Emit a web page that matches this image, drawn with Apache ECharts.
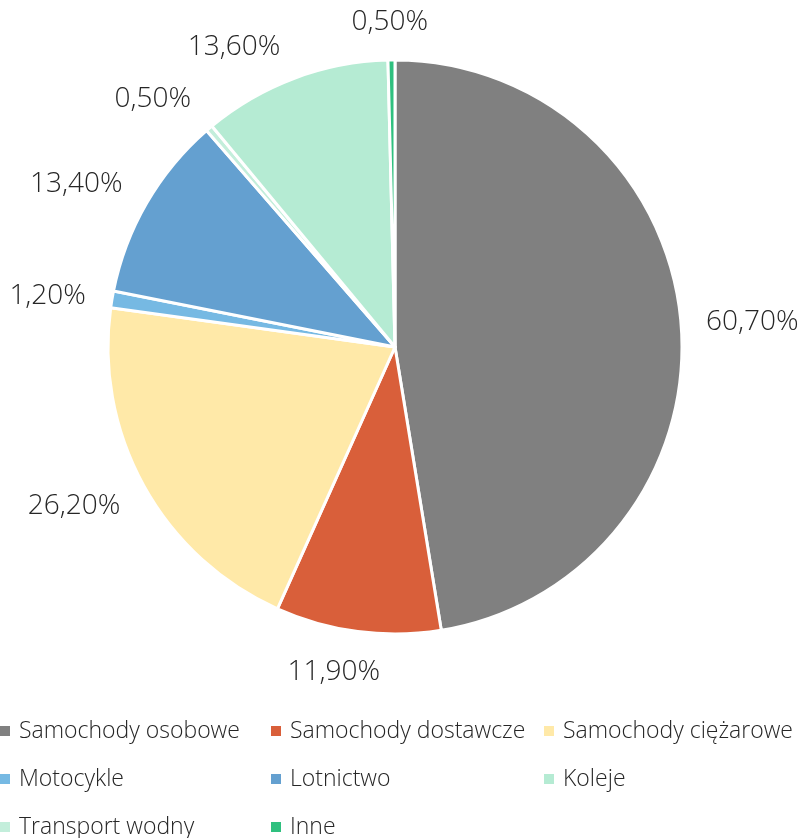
<!DOCTYPE html>
<html><head><meta charset="utf-8">
<script src="https://cdn.jsdelivr.net/npm/echarts@6/dist/echarts.min.js"></script>
<style>html,body{margin:0;padding:0;background:#fff}#c{width:802px;height:838px}</style>
</head><body><div id="c"></div>
<script>
const categories = ["Samochody osobowe","Samochody dostawcze","Samochody ciężarowe","Motocykle","Lotnictwo","Transport wodny","Koleje","Inne"];
const values = [60.7, 11.9, 26.2, 1.2, 13.4, 0.5, 13.6, 0.5];
const colors = ["#808080","#D95F3A","#FFE9A8","#76B9E3","#64A0D0","#C3EEDB","#B5EBD3","#2FC07F"];
const legendOrder = ["Samochody osobowe","Samochody dostawcze","Samochody ciężarowe","Motocykle","Lotnictwo","Koleje","Transport wodny","Inne"];
// label placement nudges (degrees, clockwise) to mimic the original's collision-avoided label spots
const labelAngleNudge = [0.6, 3.2, 2.6, -1.2, -3, -4, -7.7, -0.2];
const colX = [0, 271, 544];
const rowY = [731, 779, 827];
const font = "'Open Sans', sans-serif";
const CX = 395, CY = 347, R = 287, GAP = 24;
const total = values.reduce((a,b)=>a+b,0);
const midAngles = [];
{ let acc = 0; values.forEach(v=>{ midAngles.push((acc + v/2)/total*2*Math.PI); acc += v; }); }
const chart = echarts.init(document.getElementById('c'), null, {renderer:'canvas'});
chart.setOption({
  animation:false,
  color: colors,
  legend: legendOrder.map((n,i)=>({
    data:[n], orient:'horizontal', left:colX[i%3], top:rowY[Math.floor(i/3)]-16,
    itemWidth:10, itemHeight:10, icon:'rect', padding:0,
    itemStyle:{borderWidth:0},
    textStyle:{fontFamily:font, fontSize:23, fontWeight:300, color:'#262626', padding:[0,0,0,4], lineHeight:32}
  })),
  series:[{
    type:'pie', center:[CX,CY], radius:[0,R], startAngle:90, clockwise:true,
    data: categories.map((n,i)=>({name:n, value:values[i]})),
    itemStyle:{borderColor:'#fff', borderWidth:3},
    label:{show:true, position:'outside', fontFamily:font, fontSize:28, fontWeight:300, color:'#262626',
      formatter:p=>p.value.toFixed(2).replace('.',',')+'%'},
    labelLine:{show:false, length:20, length2:0},
    avoidLabelOverlap:false,
    labelLayout: function(p){
      const a0 = midAngles[p.dataIndex];
      const a = a0 + labelAngleNudge[p.dataIndex]*Math.PI/180;
      const ux = Math.sin(a), uy = -Math.cos(a);
      const ux0 = Math.sin(a0), uy0 = -Math.cos(a0);
      const w = p.labelRect.width, h = p.labelRect.height;
      const d = R + GAP + Math.abs(ux0)*w/2 + Math.abs(uy0)*h/2;
      return {x: CX + d*ux, y: CY + d*uy, align:'center', verticalAlign:'middle'};
    }
  }]
});
</script></body></html>
